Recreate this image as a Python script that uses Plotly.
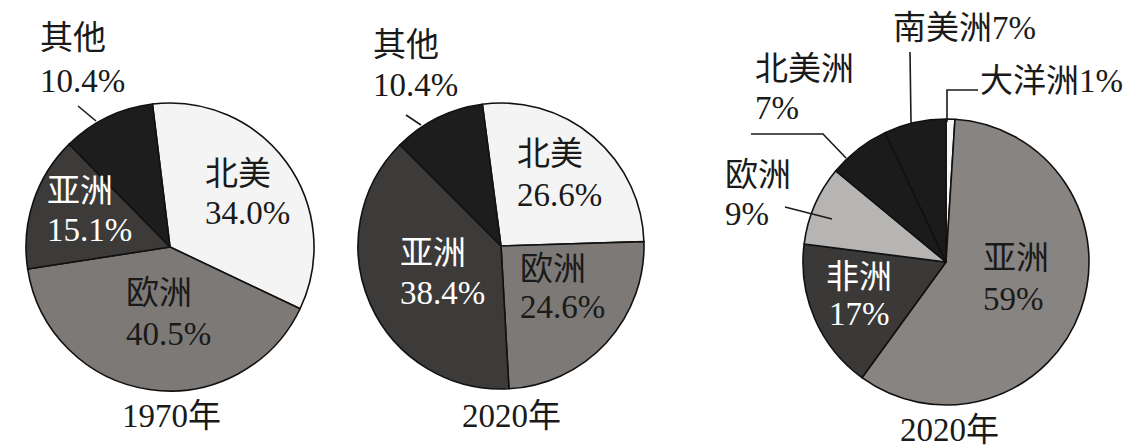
import plotly.graph_objects as go

W, H = 1145, 446

# 1970年 / 2020年 shares (left two pies)
regions_a = ["北美", "欧洲", "亚洲", "其他"]
share_1970 = [34.0, 40.5, 15.1, 10.4]
share_2020 = [26.6, 24.6, 38.4, 10.4]

# 2020年 by continent (right pie)
continents = ["大洋洲", "亚洲", "非洲", "欧洲", "北美洲", "南美洲"]
share_cont = [1, 59, 17, 9, 7, 7]

years = ["1970年", "2020年", "2020年"]

colors_a = ["#f4f4f4", "#7c7976", "#3d3b3a", "#1e1d1d"]
colors_b = ["#f6f6f6", "#888481", "#3b3938", "#b7b5b3", "#1c1b1b", "#1c1b1b"]

FONT = "Liberation Serif, Noto Sans CJK SC, serif"
DY = -7  # plotly puts glyphs a bit below the anchor


def px(x):
    return x / W


def py(y):
    return 1 - y / H


def dom(cx, cy, r):
    return dict(x=[px(cx - r), px(cx + r)], y=[py(cy + r), py(cy - r)])


fig = go.Figure()

pies = [
    (regions_a, share_1970, colors_a, -7, (162, 239, 144)),
    (regions_a, share_2020, colors_a, -7.5, (493, 238, 143)),
    (continents, share_cont, colors_b, 0, (938, 254, 143)),
]
for labels, values, cols, rot, (cx, cy, r) in pies:
    fig.add_trace(go.Pie(
        labels=labels, values=values, sort=False, direction="clockwise",
        rotation=rot, textinfo="none", hoverinfo="label+percent",
        marker=dict(colors=cols, line=dict(color="#111111", width=1.6)),
        domain=dom(cx, cy, r), showlegend=False,
    ))


def fmt(v, dec):
    return f"{v:.1f}%" if dec else f"{v:g}%"


annos = []


def line(text, x, y, color="#1a1a1a", anchor="left"):
    annos.append(dict(
        text=text, x=px(x), y=py(y + DY), xref="paper", yref="paper",
        xanchor=anchor, yanchor="middle", showarrow=False,
        font=dict(family=FONT, size=33, color=color),
    ))


def label(name, val, x, y1, y2, color="#1a1a1a", anchor="left"):
    line(name, x, y1, color, anchor)
    line(val, x, y2, color, anchor)


# left pie (1970): x, name line y, value line y, colour
pos1 = {"北美": (195, 173, 212, "#1a1a1a"), "欧洲": (116, 292, 333, "#1a1a1a"),
        "亚洲": (37, 190, 229, "#ffffff"), "其他": (30, 37, 80, "#1a1a1a")}
for name, v in zip(regions_a, share_1970):
    x, y1, y2, c = pos1[name]
    label(name, fmt(v, True), x, y1, y2, c)

# middle pie (2020)
pos2 = {"北美": (507, 153, 194, "#1a1a1a"), "欧洲": (510, 268, 306, "#1a1a1a"),
        "亚洲": (390, 252, 292, "#ffffff"), "其他": (363, 44, 84, "#1a1a1a")}
for name, v in zip(regions_a, share_2020):
    x, y1, y2, c = pos2[name]
    label(name, fmt(v, True), x, y1, y2, c)

# right pie (2020 by continent)
for name, v in zip(continents, share_cont):
    if name == "南美洲":
        # top-anchored so it stays inside the page
        annos.append(dict(
            text=f"{name}{fmt(v, False)}", x=px(883), y=1, xref="paper",
            yref="paper", xanchor="left", yanchor="top", showarrow=False,
            font=dict(family=FONT, size=33, color="#1a1a1a"),
        ))
    elif name == "大洋洲":
        line(f"{name}{fmt(v, False)}", 970, 80)
    elif name == "北美洲":
        label(name, fmt(v, False), 745, 68, 107)
    elif name == "欧洲":
        label(name, fmt(v, False), 715, 174, 213)
    elif name == "非洲":
        label(name, fmt(v, False), 851, 276, 313, "#ffffff", "center")
    elif name == "亚洲":
        label(name, fmt(v, False), 973, 257, 298)

# year captions
for yr, (x, y) in zip(years, [(163, 415), (503, 415), (941, 429)]):
    line(yr, x, y, anchor="center")

# leader lines
leaders = [
    [(70, 98), (88, 113)],
    [(398, 107), (413, 117)],
    [(743, 126), (815, 126), (838, 150)],
    [(777, 199), (824, 211)],
    [(902, 44), (903, 115)],
    [(970, 82), (939, 82), (939, 114)],
]
shapes = []
for pts in leaders:
    path = "M " + " L ".join(f"{px(x)} {py(y)}" for x, y in pts)
    shapes.append(dict(type="path", path=path, xref="paper", yref="paper",
                       line=dict(color="#1a1a1a", width=1.6)))

fig.update_layout(
    width=W, height=H, margin=dict(l=0, r=0, t=0, b=0),
    paper_bgcolor="white", plot_bgcolor="white",
    annotations=annos, shapes=shapes,
)

fig.write_html("out.html")
